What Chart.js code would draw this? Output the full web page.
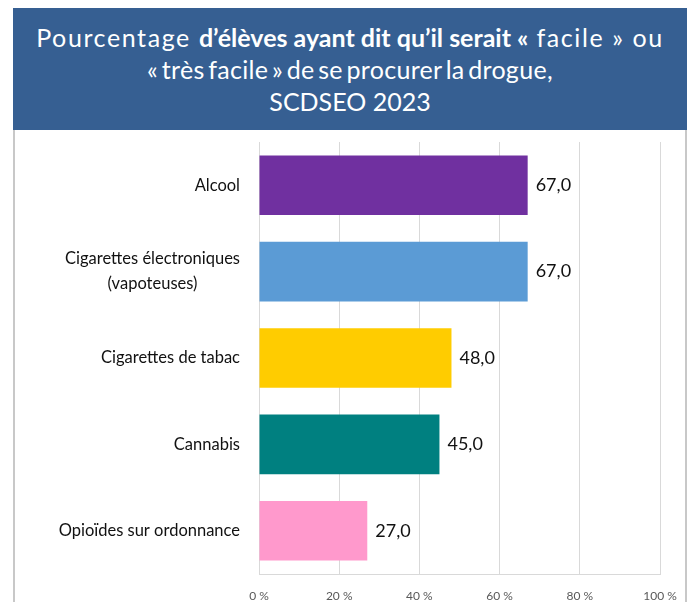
<!DOCTYPE html>
<html lang="fr">
<head>
<meta charset="utf-8">
<script src="https://cdn.jsdelivr.net/npm/chart.js@4"></script>
<style>
    html, body { margin: 0; padding: 0; background: #fff; }
    #page { position: relative; width: 694px; height: 602px; overflow: hidden; }
    #banner {
        position: absolute; left: 13px; top: 8px; width: 674px; height: 122px;
        background: #365f92; color: #fff; text-align: center;
        font-family: Lato, "Open Sans", sans-serif; font-size: 25px; line-height: 32px;
        box-sizing: border-box; padding-top: 13px; white-space: nowrap;
    }
    #banner div { height: 32px; }
    #banner .l1 { letter-spacing: 1.6px; }
    #banner .l2 { letter-spacing: 0.3px; word-spacing: -3px; }
    #banner .l3 { letter-spacing: 0; }
    #banner b { font-weight: 700; letter-spacing: 0; }
    #panel {
        position: absolute; left: 13px; top: 130px; width: 674px; height: 472px;
        border-left: 2px solid #c8c8c8; border-right: 2px solid #c8c8c8; box-sizing: border-box;
    }
    #wrap { position: absolute; left: 0; top: 130px; width: 694px; height: 472px; }
</style>
</head>
<body>
<div id="page">
    <div id="banner">
        <div class="l1">Pourcentage <b>d’élèves ayant dit qu’il serait «</b> facile » ou</div>
        <div class="l2">« très facile » de se procurer la drogue,</div>
        <div class="l3">SCDSEO 2023</div>
    </div>
    <div id="panel"></div>
    <div id="wrap"><canvas id="chart"></canvas></div>
</div>
<script>
// Data
const categories = [
    ['Alcool'],
    ['Cigarettes électroniques', '(vapoteuses)'],
    ['Cigarettes de tabac'],
    ['Cannabis'],
    ['Opioïdes sur ordonnance']
];
const values = [67.0, 67.0, 48.0, 45.0, 27.0];
const xTicks = [0, 20, 40, 60, 80, 100];

const barColors = ['#7030a0', '#5b9bd5', '#ffcc00', '#008080', '#ff99cc'];

// Category labels, each line centred within a right-aligned block (as Excel does)
const categoryLabels = {
    id: 'categoryLabels',
    afterDraw(chart) {
        const { ctx } = chart;
        const yScale = chart.scales.y;
        const right = chart.chartArea.left - 19;
        ctx.save();
        ctx.font = '16.5px Lato, "Open Sans", sans-serif';
        ctx.fillStyle = '#111';
        ctx.textAlign = 'center';
        ctx.textBaseline = 'middle';
        categories.forEach((lines, i) => {
            const y = yScale.getPixelForValue(i);
            const maxW = Math.max(...lines.map(l => ctx.measureText(l).width));
            const cx = right - maxW / 2;
            const lh = 25;
            lines.forEach((l, j) => {
                ctx.fillText(l, cx, y + (j - (lines.length - 1) / 2) * lh);
            });
        });
        ctx.restore();
    }
};

// Value labels at the end of each bar
const valueLabels = {
    id: 'valueLabels',
    afterDatasetsDraw(chart) {
        const { ctx } = chart;
        const meta = chart.getDatasetMeta(0);
        ctx.save();
        ctx.font = '18px Lato, "Open Sans", sans-serif';
        ctx.fillStyle = '#111';
        ctx.textAlign = 'left';
        ctx.textBaseline = 'middle';
        meta.data.forEach((bar, i) => {
            ctx.fillText(values[i].toFixed(1).replace('.', ','), bar.x + 8, bar.y);
        });
        ctx.restore();
    }
};

new Chart(document.getElementById('chart'), {
    type: 'bar',
    data: {
        labels: categories.map(c => c.join(' ')),
        datasets: [{
            data: values,
            backgroundColor: barColors,
            borderWidth: 0,
            barPercentage: 0.69,
            categoryPercentage: 1
        }]
    },
    options: {
        indexAxis: 'y',
        responsive: true,
        maintainAspectRatio: false,
        animation: false,
        layout: { padding: { left: 0, right: 34, top: 12, bottom: 0 } },
        plugins: {
            legend: { display: false },
            tooltip: { enabled: false }
        },
        scales: {
            x: {
                min: 0,
                max: 100,
                afterBuildTicks(scale) {
                    scale.ticks = xTicks.map(v => ({ value: v }));
                },
                afterFit(scale) { scale.height = 28; },
                grid: { color: '#d9d9d9', drawTicks: false },
                border: { color: '#d9d9d9' },
                ticks: {
                    padding: 15,
                    color: '#595959',
                    font: { family: 'Lato, "Open Sans", sans-serif', size: 12 },
                    callback: v => v + ' %'
                }
            },
            y: {
                afterFit(scale) { scale.width = 259; },
                grid: { display: false },
                border: { color: '#d9d9d9' },
                ticks: { display: false }
            }
        }
    },
    plugins: [categoryLabels, valueLabels]
});
</script>
</body>
</html>
